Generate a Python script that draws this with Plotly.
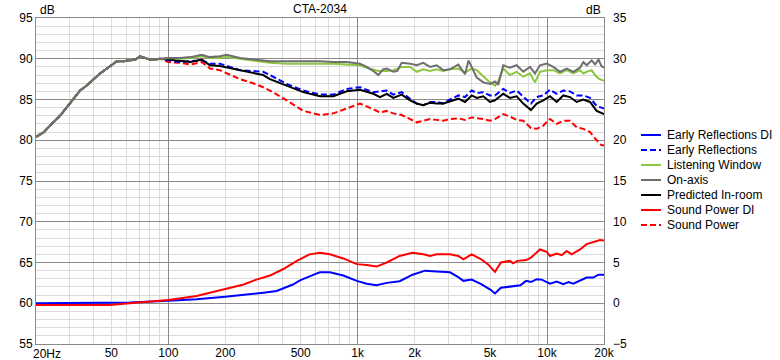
import plotly.graph_objects as go

# ---------------- data ----------------
# shared low-frequency part of the spinorama curves (all curves coincide there)
lf_f = [20, 21, 22, 23.7, 25, 26.8, 28.5, 30.2, 32, 34.2, 36.5, 38.6, 41, 43.6, 47.4,
        50, 53.5, 58, 62.5, 67, 70.7, 75, 79.9, 85, 90.3]
lf_db = [80.4, 80.7, 81.0, 81.8, 82.3, 83.0, 83.8, 84.5, 85.3, 86.1, 86.6, 87.1, 87.6, 88.2, 88.8,
         89.2, 89.7, 89.7, 89.8, 89.9, 90.3, 90.1, 89.9, 89.9, 90.0]

on_f = [100, 115, 131, 150, 166, 187, 203, 239, 281, 317,
        344, 422, 516, 632, 744, 875, 1029, 1116, 1209, 1286,
        1360, 1423, 1543, 1620, 1708, 1890, 2050, 2222, 2410, 2614,
        2834, 3073, 3401, 3690, 3850, 4001, 4252, 4608, 4998, 5311,
        5529, 5876, 6373, 6913, 7494, 8130, 8638, 9183, 9966, 10796,
        11710, 12707, 13767, 14938, 15553, 16200, 17220, 17930, 18700, 19400,
        20000]
on_axis = [90.1, 90.1, 90.2, 90.5, 90.2, 90.3, 90.5, 90.1, 89.9, 89.8,
           89.7, 89.7, 89.7, 89.7, 89.6, 89.6, 89.4, 89.0, 88.5, 88.0,
           88.7, 88.8, 88.4, 88.5, 89.5, 89.4, 89.2, 89.5, 89.0, 89.2,
           88.6, 88.7, 89.3, 88.1, 89.8, 89.0, 87.7, 87.1, 86.9, 87.2,
           86.8, 89.2, 88.9, 89.2, 88.4, 89.0, 88.2, 89.2, 89.4, 89.0,
           88.4, 88.8, 88.4, 88.9, 89.6, 89.2, 89.8, 89.3, 89.9, 89.1,
           88.9]
listening_window = [90.1, 90.0, 90.1, 90.3, 90.1, 90.1, 90.2, 90.0, 89.8, 89.6,
                    89.5, 89.4, 89.4, 89.4, 89.4, 89.3, 89.2, 88.9, 88.7, 88.5,
                    88.5, 88.5, 88.6, 88.8, 89.0, 89.0, 88.4, 88.7, 88.5, 88.7,
                    88.5, 88.7, 88.8, 88.3, 88.6, 88.8, 88.6, 87.8, 87.1, 86.7,
                    87.3, 88.8, 88.0, 88.4, 87.8, 88.2, 87.1, 88.4, 88.6, 88.6,
                    88.2, 88.6, 88.2, 88.6, 88.2, 88.4, 88.6, 88.0, 87.6, 87.4,
                    87.3]

mid_f = [100, 115, 131, 150, 166, 187, 239, 280, 317, 344,
         422, 516, 632, 744, 875, 1029, 1209, 1312, 1423, 1543,
         1708, 1890, 2050, 2222, 2410, 2614, 2834, 3073, 3401, 3690,
         4001, 4252, 4608, 4998, 5311, 5876, 6373, 6913, 7494, 8225,
         8820, 9560, 10370, 11255, 12190, 13226, 14350, 15553, 16870, 18300,
         19400, 20000]
predicted_in_room = [89.9, 89.7, 89.6, 89.9, 89.2, 89.1, 88.6, 88.2, 88.0, 87.5,
                     86.7, 85.9, 85.4, 85.4, 86.0, 86.2, 85.7, 85.3, 85.7, 85.2,
                     85.6, 84.9, 84.5, 84.3, 84.6, 84.5, 84.5, 84.8, 85.1, 84.7,
                     85.5, 85.2, 85.4, 84.7, 84.9, 85.7, 85.2, 85.4, 84.5, 83.7,
                     84.5, 84.9, 85.4, 84.7, 85.5, 85.3, 84.7, 85.0, 84.7, 83.6,
                     83.3, 83.2]
early_reflections = [89.8, 89.6, 89.7, 89.8, 89.4, 89.4, 88.6, 88.5, 88.4, 88.0,
                     86.9, 86.1, 85.6, 85.6, 86.3, 86.5, 85.9, 86.0, 86.1, 85.6,
                     85.9, 85.1, 84.5, 84.3, 84.7, 84.7, 84.5, 85.0, 85.5, 85.3,
                     86.1, 85.8, 85.9, 85.5, 85.5, 86.3, 85.8, 86.1, 85.4, 84.5,
                     85.3, 85.5, 86.2, 85.7, 86.1, 86.0, 85.5, 85.5, 85.2, 84.2,
                     84.0, 83.9]
sound_power = [89.6, 89.5, 89.3, 89.6, 88.8, 88.6, 87.5, 87.0, 86.5, 86.1,
               84.9, 83.6, 83.1, 83.3, 83.9, 84.5, 83.8, 83.4, 83.6, 83.3,
               83.1, 82.6, 82.2, 82.4, 82.6, 82.5, 82.4, 82.6, 82.7, 82.5,
               82.8, 82.7, 82.6, 82.4, 82.6, 83.2, 82.9, 82.5, 82.4, 81.5,
               81.4, 81.8, 82.6, 82.0, 82.4, 82.4, 81.6, 81.4, 81.0, 80.0,
               79.4, 79.4]

# directivity indices (right axis)
erdi_f = [20, 40, 62.5, 100, 141, 200, 260, 318, 373, 422,
          455, 496, 553, 600, 632, 713, 840, 989, 1116, 1258,
          1423, 1667, 1950, 2270, 2614, 3073, 3400, 3617, 4001, 4490,
          5040, 5311, 5710, 6373, 6800, 7230, 7760, 8225, 8820, 9380,
          10370, 11255, 12190, 13000, 13767, 15000, 16200, 17570, 18700, 20000]
early_reflections_di = [0.0, 0.02, 0.1, 0.3, 0.5, 0.8, 1.05, 1.3, 1.5, 2.0,
                        2.3, 2.8, 3.3, 3.6, 3.8, 3.8, 3.4, 2.75, 2.4, 2.2,
                        2.5, 2.7, 3.5, 4.0, 3.9, 3.8, 3.2, 2.75, 2.9, 2.35,
                        1.65, 1.2, 1.9, 2.0, 2.1, 2.2, 2.75, 2.6, 2.95, 2.9,
                        2.4, 2.65, 2.35, 2.6, 2.4, 2.8, 3.15, 3.15, 3.5, 3.5]
spdi_f = [20, 49.3, 62.5, 100, 141, 200, 250, 292, 344, 405,
          477, 557, 632, 713, 840, 989, 1116, 1258, 1423, 1667,
          1950, 2222, 2410, 2614, 3073, 3400, 3617, 4001, 4490, 4870,
          5311, 5710, 6373, 6613, 6985, 7760, 8225, 9183, 9966, 10370,
          11255, 11950, 12707, 13500, 14940, 16200, 17570, 19060, 20000]
sound_power_di = [-0.2, -0.2, 0.0, 0.4, 0.9, 1.7, 2.3, 2.9, 3.4, 4.2,
                  5.2, 6.0, 6.2, 6.0, 5.5, 4.8, 4.7, 4.5, 5.0, 5.8,
                  6.2, 6.0, 5.8, 6.0, 6.0, 5.8, 5.4, 6.0, 5.4, 4.8,
                  3.85, 5.0, 5.2, 4.9, 5.2, 5.3, 5.6, 6.6, 6.3, 5.8,
                  6.1, 5.9, 6.4, 6.0, 6.6, 7.25, 7.5, 7.75, 7.7]

# x tick labels (the first one, "20Hz", is drawn left-aligned at the axis start)
x_tick_vals = [50, 100, 200, 500, 1000, 2000, 5000, 10000, 20000]
x_tick_text = ["50", "100", "200", "500", "1k", "2k", "5k", "10k", "20k"]
x_first_label = "20Hz"

legend_names = ["Early Reflections DI", "Early Reflections", "Listening Window", "On-axis",
                "Predicted In-room", "Sound Power DI", "Sound Power"]

# ---------------- styling ----------------
BLUE = "#0000FF"
RED = "#FF0000"
GREEN = "#8DC63F"
GRAY = "#6E6E6E"
BLACK = "#000000"
DASH = "6px,3px"
FONT = "Liberation Sans, Arial, sans-serif"
MAJOR = "#8A8A8A"
MINOR = "#DCDCDC"

styles = {
    "Early Reflections DI": dict(color=BLUE, dash="solid"),
    "Early Reflections": dict(color=BLUE, dash=DASH),
    "Listening Window": dict(color=GREEN, dash="solid"),
    "On-axis": dict(color=GRAY, dash="solid"),
    "Predicted In-room": dict(color=BLACK, dash="solid"),
    "Sound Power DI": dict(color=RED, dash="solid"),
    "Sound Power": dict(color=RED, dash=DASH),
}

fig = go.Figure()


def add(name, f, v, yaxis="y"):
    st = styles[name]
    fig.add_trace(go.Scatter(x=f, y=v, mode="lines", name=name, yaxis=yaxis,
                             line=dict(color=st["color"], width=2, dash=st["dash"]),
                             showlegend=False, hoverinfo="skip"))


add("Early Reflections DI", erdi_f, early_reflections_di, "y2")
add("Sound Power DI", spdi_f, sound_power_di, "y2")
add("Sound Power", lf_f + mid_f, lf_db + sound_power)
add("Early Reflections", lf_f + mid_f, lf_db + early_reflections)
add("Predicted In-room", lf_f + mid_f, lf_db + predicted_in_room)
add("Listening Window", lf_f + on_f, lf_db + listening_window)
add("On-axis", lf_f + on_f, lf_db + on_axis)

# invisible helper trace so the label axis (x2) exists
fig.add_trace(go.Scatter(x=[20], y=[60], xaxis="x2", mode="markers",
                         marker=dict(opacity=0), showlegend=False, hoverinfo="skip"))

minor_x = [m * d for d in (10, 100, 1000) for m in range(2, 10) if m * d > 20]

L, R, T, B = 36, 176, 18, 16
W, H = 780, 360
pw, ph = W - L - R, H - T - B


def px(x):
    return (x - L) / pw


def py(y):
    return (H - B - y) / ph


fig.update_layout(
    width=W, height=H, template="none",
    margin=dict(l=L, r=R, t=T, b=B, autoexpand=False),
    paper_bgcolor="white", plot_bgcolor="white",
    font=dict(family=FONT, size=12, color="black"),
    showlegend=False,
    xaxis=dict(type="log", range=[1.30103, 4.30103], tickvals=[100, 1000, 10000],
               showticklabels=False, ticks="", showgrid=True, gridcolor=MAJOR, gridwidth=1,
               minor=dict(tickvals=minor_x, showgrid=True, gridcolor=MINOR, gridwidth=1, ticks=""),
               showline=True, mirror=True, linecolor=MAJOR, linewidth=1, zeroline=False,
               automargin=False),
    xaxis2=dict(type="log", range=[1.30103, 4.30103], overlaying="x", anchor="y", side="bottom",
                tickvals=x_tick_vals, ticktext=x_tick_text, showgrid=False, ticks="",
                showline=False, zeroline=False, automargin=False,
                tickfont=dict(family=FONT, size=12, color="black")),
    yaxis=dict(range=[55, 95], tick0=55, dtick=5, ticks="", showgrid=True, gridcolor=MAJOR,
               gridwidth=1, minor=dict(dtick=1, showgrid=True, gridcolor=MINOR, gridwidth=1, ticks=""),
               showline=True, mirror=True, linecolor=MAJOR, linewidth=1, zeroline=False,
               automargin=False, tickfont=dict(family=FONT, size=12, color="black")),
    yaxis2=dict(range=[-5, 35], tick0=-5, dtick=5, overlaying="y", side="right", anchor="x",
                ticks="", showgrid=False, zeroline=False, showline=False, automargin=False,
                ticklabelstandoff=8, tickfont=dict(family=FONT, size=12, color="black")),
)

ann = [
    dict(text="CTA-2034", x=0.5, y=py(9), xanchor="center", yanchor="middle"),
    dict(text="dB", x=px(38), y=py(10), xanchor="left", yanchor="middle"),
    dict(text="dB", x=px(603), y=py(10), xanchor="right", yanchor="middle"),
    dict(text=x_first_label, x=px(31), y=py(354), xanchor="left", yanchor="middle"),
]
shapes = []
for i, name in enumerate(legend_names):
    yy = 135 + 15 * i
    st = styles[name]
    shapes.append(dict(type="line", xref="paper", yref="paper", x0=px(641), x1=px(661),
                       y0=py(yy), y1=py(yy),
                       line=dict(color=st["color"], width=2, dash=st["dash"])))
    ann.append(dict(text=name, x=px(665), y=py(yy), xanchor="left", yanchor="middle"))

for a in ann:
    a.update(xref="paper", yref="paper", showarrow=False,
             font=dict(family=FONT, size=12, color="black"))
fig.update_layout(annotations=ann, shapes=shapes)

fig.write_html("out.html", config={"displayModeBar": False},
               post_script="document.body.style.margin='0';document.body.style.padding='0';")
